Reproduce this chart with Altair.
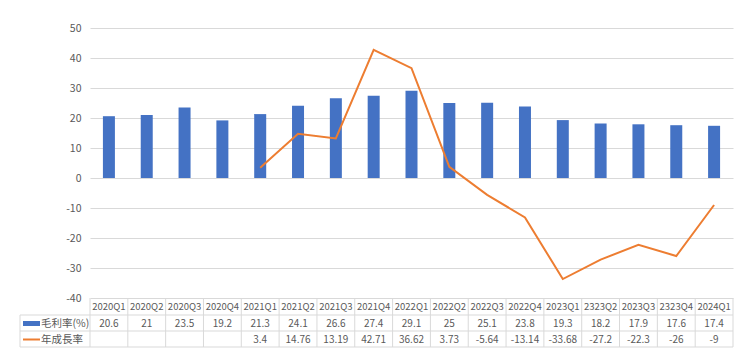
import altair as alt
import pandas as pd

quarters = ["2020Q1", "2020Q2", "2020Q3", "2020Q4", "2021Q1", "2021Q2", "2021Q3", "2021Q4",
            "2022Q1", "2022Q2", "2022Q3", "2022Q4", "2023Q1", "2323Q2", "2023Q3", "2323Q4", "2024Q1"]
margin = [20.6, 21, 23.5, 19.2, 21.3, 24.1, 26.6, 27.4, 29.1, 25, 25.1, 23.8, 19.3, 18.2, 17.9, 17.6, 17.4]
growth = [None, None, None, None, 3.4, 14.76, 13.19, 42.71, 36.62, 3.73, -5.64, -13.14,
          -33.68, -27.2, -22.3, -26, -9]
y_ticks = [-40, -30, -20, -10, 0, 10, 20, 30, 40, 50]
series_names = ["毛利率(%)", "年成長率"]


def fmt(v):
    return "" if v is None else f"{v:g}"


df = pd.DataFrame({
    "quarter": quarters,
    "margin": margin,
    "growth": growth,
    "margin_label": [fmt(v) for v in margin],
    "growth_label": [fmt(v) for v in growth],
})

W, H = 643, 270
FONT = "Noto Sans CJK TC"
BORDER = "#d9d9d9"
TEXT = "#595959"
BLUE = "#4472C4"
ORANGE = "#ED7D31"

# table row geometry (pixels relative to plot area top)
r_top, r1, r2, r_bot = 270, 287, 303, 319
left_x = -70

xscale = alt.Scale(type="band", domain=quarters, paddingInner=0, paddingOuter=0)


def X(bp=0.5):
    return alt.X("quarter:N", scale=xscale, axis=None, bandPosition=bp)


yscale = alt.Scale(domain=[-40, 50], nice=False, zero=False)
yaxis = alt.Axis(values=y_ticks, title=None, domain=False, ticks=False,
                 grid=True, gridColor=BORDER, gridWidth=1, gridOpacity=1,
                 labelColor=TEXT, labelFontSize=10.5, labelFont=FONT,
                 labelPadding=9, labelOverlap=False, labelFlush=False,
                 labelBound=False, labelExpr="'' + datum.value")

bars = alt.Chart(df).mark_bar(color=BLUE, size=12).encode(
    x=X(0.5),
    y=alt.Y("margin:Q", scale=yscale, axis=yaxis),
)

line = alt.Chart(df).mark_line(color=ORANGE, strokeWidth=2).encode(
    x=X(0.5),
    y=alt.Y("growth:Q", scale=yscale, axis=yaxis),
)

one = pd.DataFrame({"k": [0]})

# vertical borders at band starts
vborders = alt.Chart(df).mark_rule(color=BORDER, strokeWidth=1).encode(
    x=X(0), y=alt.value(r_top), y2=alt.value(r_bot)
)
vright = alt.Chart(one).mark_rule(color=BORDER, strokeWidth=1).encode(
    x=alt.value(W), y=alt.value(r_top), y2=alt.value(r_bot)
)
vleft = alt.Chart(one).mark_rule(color=BORDER, strokeWidth=1).encode(
    x=alt.value(left_x), y=alt.value(r1), y2=alt.value(r_bot)
)
hlines = [
    alt.Chart(one).mark_rule(color=BORDER, strokeWidth=1).encode(
        x=alt.value(left_x), x2=alt.value(W), y=alt.value(yy)
    )
    for yy in (r1, r2, r_bot)
]

hdr = alt.Chart(df).mark_text(font=FONT, fontSize=9.5, color=TEXT, baseline="middle").encode(
    x=X(0.5), y=alt.value((r_top + r1) / 2 + 0.5), text="quarter:N"
)
row2 = alt.Chart(df).mark_text(font=FONT, fontSize=10, color=TEXT, baseline="middle").encode(
    x=X(0.5), y=alt.value((r1 + r2) / 2 + 0.5), text="margin_label:N"
)
row3 = alt.Chart(df).mark_text(font=FONT, fontSize=10, color=TEXT, baseline="middle").encode(
    x=X(0.5), y=alt.value((r2 + r_bot) / 2 + 0.5), text="growth_label:N"
)

sym_bar = alt.Chart(one).mark_rect(color=BLUE).encode(
    x=alt.value(-67), x2=alt.value(-50),
    y=alt.value((r1 + r2) / 2 - 2), y2=alt.value((r1 + r2) / 2 + 3)
)
sym_line = alt.Chart(one).mark_rule(color=ORANGE, strokeWidth=2).encode(
    x=alt.value(-67), x2=alt.value(-50), y=alt.value((r2 + r_bot) / 2 + 0.5)
)
lab2 = alt.Chart(one).mark_text(font=FONT, fontSize=10.5, color=TEXT, align="left",
                                baseline="middle", text=series_names[0]).encode(
    x=alt.value(-49), y=alt.value((r1 + r2) / 2 + 0.5)
)
lab3 = alt.Chart(one).mark_text(font=FONT, fontSize=10.5, color=TEXT, align="left",
                                baseline="middle", text=series_names[1]).encode(
    x=alt.value(-49), y=alt.value((r2 + r_bot) / 2 + 0.5)
)

chart = alt.layer(
    bars, line, vborders, vright, vleft, *hlines, hdr, row2, row3,
    sym_bar, sym_line, lab2, lab3
).properties(
    width=W, height=H,
    autosize=alt.AutoSizeParams(type="none"),
    padding={"left": 90, "top": 28, "right": 7, "bottom": 55},
    background="white",
).configure_view(stroke=None)

chart.save("out.html", embed_options={"renderer": "svg", "actions": False})
